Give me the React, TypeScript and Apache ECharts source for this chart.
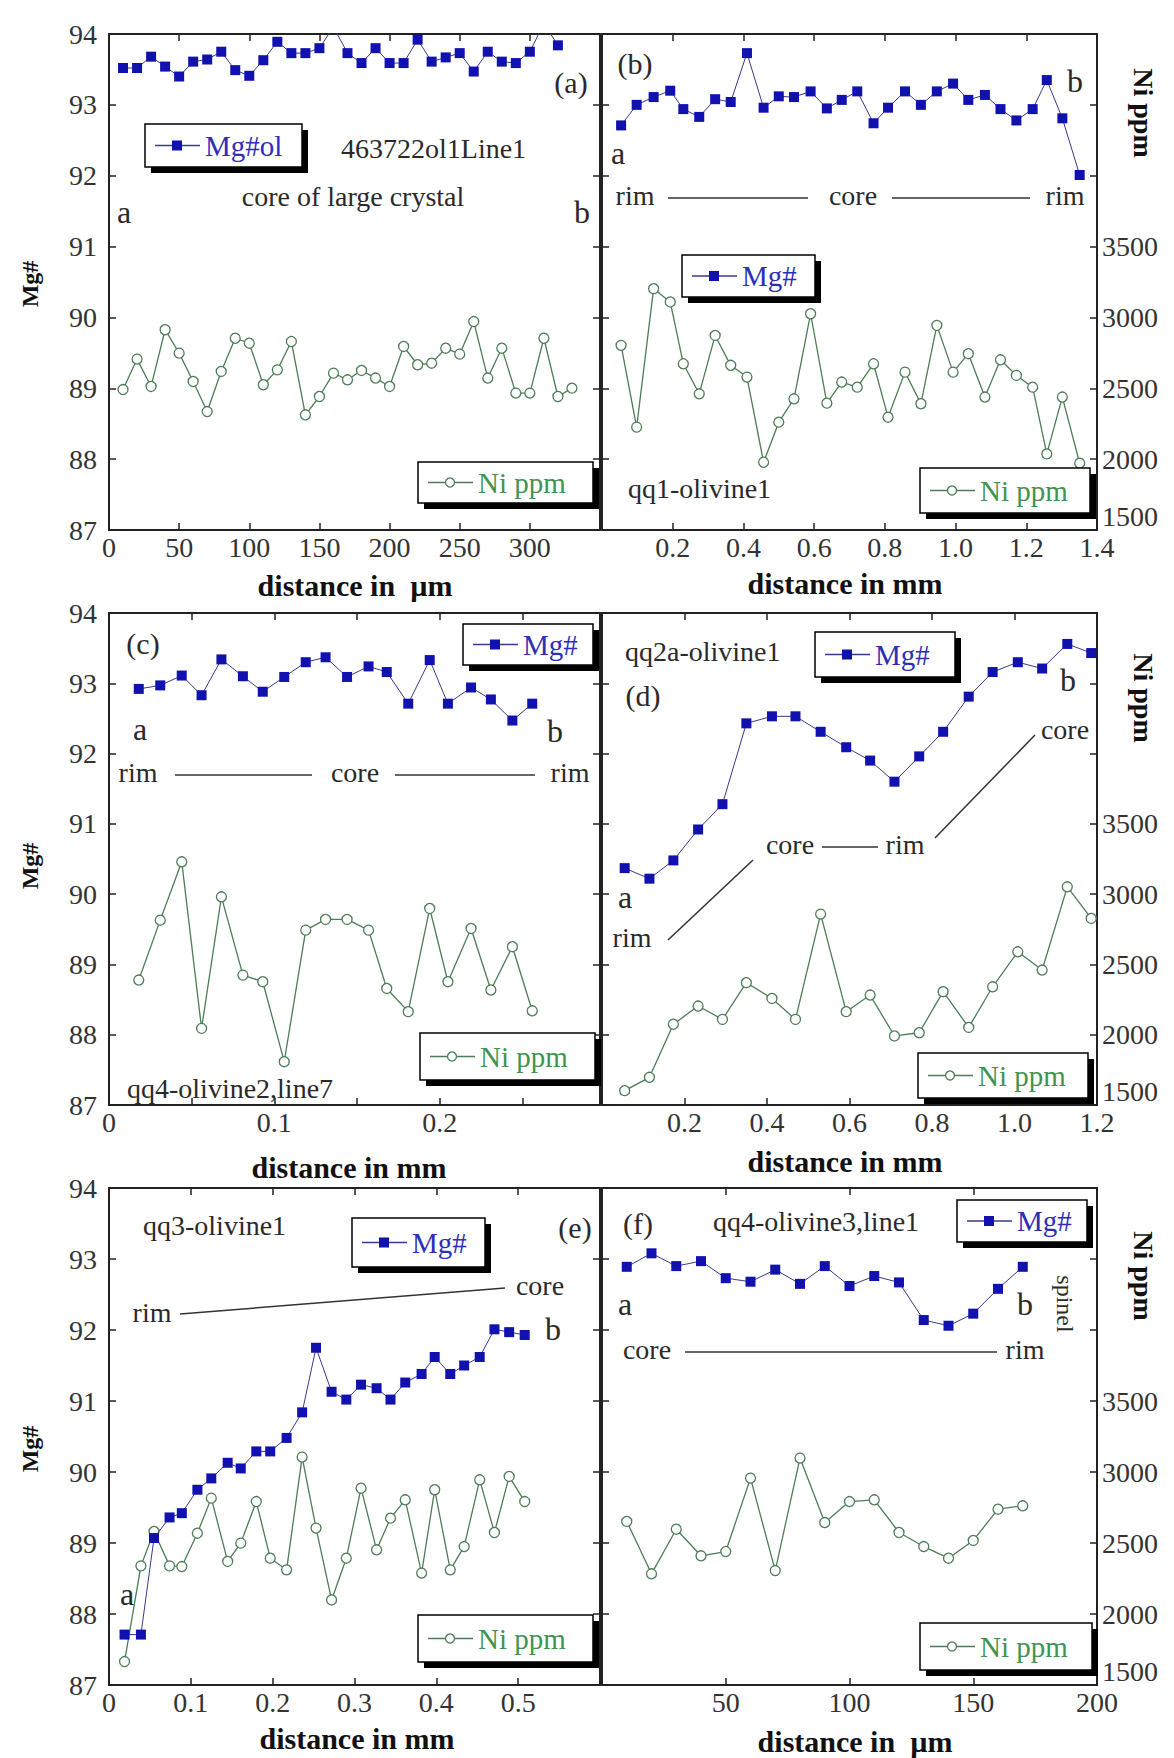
import React, { useEffect, useRef } from "react";
import * as echarts from "echarts";

const FONT = '"Liberation Serif", "Times New Roman", Times, serif';

// ---------- Panel (a): 463722ol1Line1, distance in µm ----------
const aDist = [10, 20, 30, 40, 50, 60, 70, 80, 90, 100, 110, 120, 130, 140, 150, 160, 170, 180, 190, 200, 210, 220, 230, 240, 250, 260, 270, 280, 290, 300, 310, 320, 330];
const aMg = [93.52, 93.52, 93.68, 93.54, 93.4, 93.61, 93.64, 93.75, 93.49, 93.41, 93.63, 93.89, 93.73, 93.73, 93.8, 94.1, 93.73, 93.59, 93.8, 93.59, 93.59, 93.92, 93.61, 93.67, 93.73, 93.47, 93.75, 93.61, 93.59, 93.75, 94.15, 93.84];
const aNi = [2491, 2706, 2513, 2913, 2748, 2548, 2336, 2619, 2853, 2818, 2525, 2630, 2830, 2313, 2442, 2607, 2560, 2626, 2572, 2513, 2795, 2666, 2677, 2783, 2741, 2971, 2572, 2783, 2466, 2466, 2853, 2442, 2501];

// ---------- Panel (b): qq1-olivine1, distance in mm ----------
const bDist = [0.054, 0.098, 0.146, 0.193, 0.23, 0.275, 0.32, 0.364, 0.41, 0.457, 0.5, 0.543, 0.59, 0.636, 0.678, 0.722, 0.768, 0.809, 0.857, 0.902, 0.947, 0.993, 1.036, 1.083, 1.127, 1.172, 1.218, 1.258, 1.302, 1.351];
const bMg = [92.71, 93.0, 93.11, 93.2, 92.94, 92.83, 93.08, 93.04, 93.73, 92.96, 93.12, 93.11, 93.19, 92.95, 93.07, 93.19, 92.74, 92.96, 93.19, 93.0, 93.19, 93.3, 93.07, 93.14, 92.94, 92.78, 92.94, 93.35, 92.81, 92.01];
const bNi = [2803, 2226, 3203, 3109, 2673, 2461, 2873, 2662, 2579, 1978, 2261, 2426, 3026, 2395, 2544, 2508, 2673, 2296, 2614, 2391, 2944, 2614, 2744, 2438, 2701, 2591, 2508, 2037, 2438, 1971];

// ---------- Panel (c): qq4-olivine2,line7, distance in mm ----------
const cDist = [0.018, 0.031, 0.044, 0.056, 0.068, 0.081, 0.093, 0.106, 0.119, 0.131, 0.144, 0.157, 0.168, 0.181, 0.194, 0.205, 0.219, 0.231, 0.244, 0.256];
const cMg = [92.92, 92.97, 93.11, 92.83, 93.34, 93.1, 92.88, 93.09, 93.3, 93.37, 93.09, 93.24, 93.16, 92.71, 93.33, 92.71, 92.94, 92.77, 92.47, 92.71];
const cNi = [2389, 2815, 3230, 2045, 2981, 2424, 2377, 1808, 2744, 2820, 2820, 2744, 2329, 2164, 2898, 2377, 2756, 2318, 2626, 2170];

// ---------- Panel (d): qq2a-olivine1, distance in mm ----------
const dDist = [0.055, 0.115, 0.173, 0.233, 0.292, 0.35, 0.412, 0.469, 0.53, 0.592, 0.65, 0.709, 0.769, 0.827, 0.889, 0.947, 1.008, 1.067, 1.128, 1.186];
const dMg = [90.37, 90.22, 90.48, 90.92, 91.28, 92.43, 92.53, 92.53, 92.31, 92.09, 91.9, 91.6, 91.96, 92.31, 92.81, 93.16, 93.3, 93.21, 93.56, 93.43];
const dNi = [1602, 1697, 2075, 2204, 2109, 2370, 2258, 2109, 2858, 2164, 2282, 1991, 2014, 2306, 2052, 2341, 2590, 2460, 3052, 2827];

// ---------- Panel (e): qq3-olivine1, distance in mm ----------
const eDist = [0.019, 0.039, 0.055, 0.074, 0.089, 0.108, 0.125, 0.145, 0.161, 0.18, 0.197, 0.217, 0.236, 0.253, 0.272, 0.29, 0.308, 0.327, 0.344, 0.362, 0.382, 0.398, 0.417, 0.434, 0.453, 0.471, 0.489, 0.508];
const eMg = [87.71, 87.71, 89.07, 89.36, 89.42, 89.75, 89.91, 90.13, 90.05, 90.29, 90.29, 90.48, 90.84, 91.75, 91.13, 91.02, 91.23, 91.18, 91.02, 91.26, 91.38, 91.62, 91.38, 91.5, 91.62, 92.01, 91.97, 91.93];
const eNi = [1665, 2339, 2581, 2339, 2334, 2569, 2816, 2370, 2499, 2792, 2393, 2311, 3105, 2605, 2099, 2393, 2886, 2452, 2675, 2804, 2288, 2875, 2311, 2475, 2945, 2574, 2969, 2792];

// ---------- Panel (f): qq4-olivine3,line1, distance in µm ----------
const fDist = [10, 20, 30, 40, 50, 60, 70, 80, 90, 100, 110, 120, 130, 140, 150, 160, 170];
const fMg = [92.89, 93.08, 92.9, 92.97, 92.73, 92.68, 92.85, 92.65, 92.9, 92.62, 92.76, 92.67, 92.14, 92.06, 92.23, 92.58, 92.89];
const fNi = [2652, 2283, 2597, 2410, 2440, 2957, 2306, 3098, 2644, 2792, 2804, 2574, 2475, 2393, 2518, 2738, 2762];

// Axis ranges
const MG_MIN = 87, MG_MAX = 94, MG_STEP = 1;
const NI_MIN = 1500, NI_MAX = 5000, NI_STEP = 500, NI_LABEL_MAX = 3500;

const PANELS = [
  { dist: aDist, mg: aMg, ni: aNi, xmin: 0, xmax: 350, xstep: 50, col: 0 },
  { dist: bDist, mg: bMg, ni: bNi, xmin: 0, xmax: 1.4, xstep: 0.2, col: 1 },
  { dist: cDist, mg: cMg, ni: cNi, xmin: 0, xmax: 0.297, xstep: 0.05, col: 0 },
  { dist: dDist, mg: dMg, ni: dNi, xmin: 0, xmax: 1.2, xstep: 0.2, col: 1 },
  { dist: eDist, mg: eMg, ni: eNi, xmin: 0, xmax: 0.6, xstep: 0.1, col: 0 },
  { dist: fDist, mg: fMg, ni: fNi, xmin: 0, xmax: 200, xstep: 50, col: 1 },
];

const GRIDS = [
  { left: 109, top: 34, width: 491, height: 496 },
  { left: 602, top: 34, width: 495, height: 496 },
  { left: 109, top: 613, width: 491, height: 492 },
  { left: 602, top: 613, width: 495, height: 492 },
  { left: 109, top: 1188, width: 491, height: 497 },
  { left: 602, top: 1188, width: 495, height: 497 },
];

const xFormatters: ((v: number) => string)[] = [
  (v) => (v >= 349 ? "" : String(Math.round(v))),
  (v) => (v < 0.01 ? "" : v.toFixed(1)),
  (v) => {
    const r = Math.round(v * 100) / 100;
    if (r === 0) return "0";
    if (r === 0.1) return "0.1";
    if (r === 0.2) return "0.2";
    return "";
  },
  (v) => (v < 0.01 ? "" : v.toFixed(1)),
  (v) => {
    const r = Math.round(v * 10) / 10;
    if (r >= 0.55) return "";
    return r === 0 ? "0" : String(r);
  },
  (v) => (v < 1 ? "" : String(Math.round(v))),
];

const MG_BLUE = "#1111b0";
const MG_LINE = "#3a3a8c";
const NI_GREEN = "#4d7d57";
const TXT = "#2a2a2a";

function T(text: string, x: number, y: number, o: any = {}) {
  const align = o.align || "center";
  return {
    type: "text",
    x,
    y,
    rotation: o.rot || 0,
    z: 50,
    style: {
      text,
      fill: o.fill || TXT,
      fontSize: o.size || 28,
      fontFamily: FONT,
      fontWeight: o.bold ? "bold" : "normal",
      textAlign: align,
      textVerticalAlign: "middle",
      align,
      verticalAlign: "middle",
    },
  };
}

function L(x1: number, y1: number, x2: number, y2: number) {
  return { type: "line", z: 50, shape: { x1, y1, x2, y2 }, style: { stroke: "#333", lineWidth: 1.5 } };
}

function legendBox(x0: number, y0: number, x1: number, y1: number, kind: "mg" | "ni", label: string) {
  const w = x1 - x0, h = y1 - y0, cy = (y0 + y1) / 2;
  const els: any[] = [
    { type: "rect", z: 60, shape: { x: x0 + 6, y: y0 + 6, width: w, height: h }, style: { fill: "#000" } },
    { type: "rect", z: 61, shape: { x: x0, y: y0, width: w, height: h }, style: { fill: "#fff", stroke: "#000", lineWidth: 1.5 } },
    { type: "line", z: 62, shape: { x1: x0 + 10, y1: cy, x2: x0 + 55, y2: cy }, style: { stroke: kind === "mg" ? MG_LINE : NI_GREEN, lineWidth: 1.3 } },
  ];
  if (kind === "mg") {
    els.push({ type: "rect", z: 63, shape: { x: x0 + 27, y: cy - 5, width: 10, height: 10 }, style: { fill: MG_BLUE } });
  } else {
    els.push({ type: "circle", z: 63, shape: { cx: x0 + 32, cy, r: 4.5 }, style: { fill: "#fff", stroke: NI_GREEN, lineWidth: 1.3 } });
  }
  els.push({
    type: "text",
    z: 64,
    x: x0 + 60,
    y: cy,
    style: {
      text: label,
      fill: kind === "mg" ? "#2e2eb8" : "#3f9450",
      fontSize: 29,
      fontFamily: FONT,
      textAlign: "left",
      textVerticalAlign: "middle",
      align: "left",
      verticalAlign: "middle",
    },
  });
  return els;
}

function buildOption() {
  const axisLine = { show: true, onZero: false, lineStyle: { color: "#222", width: 2 } };
  const axisTick = { show: true, inside: true, length: 7, lineStyle: { color: "#222", width: 1.5 } };
  const labelBase = { fontSize: 28, fontFamily: FONT, color: "#333" };

  const xAxis: any[] = [];
  const yAxis: any[] = [];
  const series: any[] = [];

  PANELS.forEach((p, i) => {
    const xa = { type: "value", gridIndex: i, min: p.xmin, max: p.xmax, interval: p.xstep, axisLine, axisTick, splitLine: { show: false } };
    xAxis.push({ ...xa, position: "bottom", axisLabel: { ...labelBase, margin: 3, formatter: xFormatters[i], showMinLabel: true, showMaxLabel: true } });
    xAxis.push({ ...xa, position: "top", axisLabel: { show: false } });
    yAxis.push({
      type: "value", gridIndex: i, position: "left", min: MG_MIN, max: MG_MAX, interval: MG_STEP,
      axisLine, axisTick, splitLine: { show: false },
      axisLabel: p.col === 0 ? { ...labelBase, margin: 12, showMinLabel: true, showMaxLabel: true } : { show: false },
    });
    yAxis.push({
      type: "value", gridIndex: i, position: "right", min: NI_MIN, max: NI_MAX, interval: NI_STEP,
      axisLine, axisTick, splitLine: { show: false },
      axisLabel: p.col === 1
        ? {
            ...labelBase, margin: 5, showMinLabel: true,
            verticalAlignMinLabel: "bottom",
            formatter: (v: number) => (v <= NI_LABEL_MAX ? String(v) : ""),
          }
        : { show: false },
    });
    series.push({
      type: "line", name: "Mg#", xAxisIndex: 2 * i, yAxisIndex: 2 * i, clip: true, z: 4,
      data: p.mg.map((v, k) => [p.dist[k], v]),
      symbol: "rect", symbolSize: 10,
      itemStyle: { color: MG_BLUE },
      lineStyle: { color: MG_LINE, width: 1 },
    });
    series.push({
      type: "line", name: "Ni ppm", xAxisIndex: 2 * i, yAxisIndex: 2 * i + 1, clip: true, z: 3,
      data: p.ni.map((v, k) => [p.dist[k], v]),
      symbol: "circle", symbolSize: 10,
      itemStyle: { color: "#fff", borderColor: NI_GREEN, borderWidth: 1.3 },
      lineStyle: { color: NI_GREEN, width: 1.3 },
    });
  });

  const elements: any[] = [
    // axis titles
    T("Mg#", 30, 284, { bold: true, size: 24, rot: Math.PI / 2, fill: "#111" }),
    T("Mg#", 30, 866, { bold: true, size: 24, rot: Math.PI / 2, fill: "#111" }),
    T("Mg#", 30, 1449, { bold: true, size: 24, rot: Math.PI / 2, fill: "#111" }),
    T("Ni ppm", 1143, 113, { bold: true, size: 28, rot: -Math.PI / 2, fill: "#111" }),
    T("Ni ppm", 1143, 698, { bold: true, size: 28, rot: -Math.PI / 2, fill: "#111" }),
    T("Ni ppm", 1143, 1276, { bold: true, size: 28, rot: -Math.PI / 2, fill: "#111" }),
    T("distance in  µm", 355, 585, { bold: true, size: 30, fill: "#111" }),
    T("distance in mm", 845, 583, { bold: true, size: 30, fill: "#111" }),
    T("distance in mm", 349, 1167, { bold: true, size: 30, fill: "#111" }),
    T("distance in mm", 845, 1161, { bold: true, size: 30, fill: "#111" }),
    T("distance in mm", 357, 1738, { bold: true, size: 30, fill: "#111" }),
    T("distance in  µm", 855, 1741, { bold: true, size: 30, fill: "#111" }),

    // panel (a)
    T("(a)", 571, 82, { size: 30 }),
    T("463722ol1Line1", 341, 148, { align: "left" }),
    T("core of large crystal", 353, 196),
    T("a", 124, 212, { size: 32 }),
    T("b", 582, 212, { size: 32 }),

    // panel (b)
    T("(b)", 635, 63, { size: 30 }),
    T("a", 618, 153, { size: 32 }),
    T("b", 1075, 81, { size: 32 }),
    T("rim", 635, 195),
    L(668, 198, 808, 198),
    T("core", 853, 195),
    L(892, 198, 1030, 198),
    T("rim", 1065, 195),
    T("qq1-olivine1", 628, 488, { align: "left" }),

    // panel (c)
    T("(c)", 143, 643, { size: 30 }),
    T("a", 140, 729, { size: 32 }),
    T("b", 555, 731, { size: 32 }),
    T("rim", 138, 772),
    L(175, 775, 312, 775),
    T("core", 355, 772),
    L(395, 775, 535, 775),
    T("rim", 570, 772),
    T("qq4-olivine2,line7", 127, 1088, { align: "left" }),

    // panel (d)
    T("qq2a-olivine1", 625, 651, { align: "left" }),
    T("(d)", 643, 695, { size: 30 }),
    T("b", 1068, 680, { size: 32 }),
    T("core", 1065, 729),
    L(1035, 735, 935, 838),
    T("core", 790, 844),
    L(822, 847, 878, 847),
    T("rim", 905, 844),
    L(753, 860, 668, 940),
    T("a", 625, 897, { size: 32 }),
    T("rim", 632, 937),

    // panel (e)
    T("qq3-olivine1", 143, 1225, { align: "left" }),
    T("(e)", 575, 1227, { size: 30 }),
    T("core", 540, 1285),
    L(505, 1288, 180, 1314),
    T("rim", 152, 1312),
    T("b", 553, 1329, { size: 32 }),
    T("a", 127, 1594, { size: 32 }),

    // panel (f)
    T("(f)", 638, 1223, { size: 30 }),
    T("qq4-olivine3,line1", 713, 1221, { align: "left" }),
    T("a", 625, 1304, { size: 32 }),
    T("b", 1025, 1304, { size: 32 }),
    T("spinel", 1065, 1304, { size: 24, rot: -Math.PI / 2 }),
    T("core", 647, 1349),
    L(685, 1352, 997, 1352),
    T("rim", 1025, 1349),

    // legends
    ...legendBox(145, 124, 302, 167, "mg", "Mg#ol"),
    ...legendBox(418, 462, 593, 503, "ni", "Ni ppm"),
    ...legendBox(682, 255, 815, 297, "mg", "Mg#"),
    ...legendBox(920, 468, 1090, 513, "ni", "Ni ppm"),
    ...legendBox(463, 624, 593, 665, "mg", "Mg#"),
    ...legendBox(420, 1033, 595, 1080, "ni", "Ni ppm"),
    ...legendBox(815, 632, 955, 677, "mg", "Mg#"),
    ...legendBox(918, 1053, 1088, 1098, "ni", "Ni ppm"),
    ...legendBox(352, 1218, 485, 1267, "mg", "Mg#"),
    ...legendBox(418, 1615, 593, 1662, "ni", "Ni ppm"),
    ...legendBox(957, 1200, 1087, 1242, "mg", "Mg#"),
    ...legendBox(920, 1623, 1092, 1670, "ni", "Ni ppm"),
  ];

  return {
    animation: false,
    backgroundColor: "#ffffff",
    grid: GRIDS.map((g) => ({ ...g, containLabel: false, show: false })),
    xAxis,
    yAxis,
    series,
    graphic: { elements },
  };
}

export default function App() {
  const ref = useRef<HTMLDivElement>(null);
  useEffect(() => {
    document.body.style.margin = "0";
    if (!ref.current) return;
    const chart = echarts.init(ref.current, undefined, { renderer: "svg" });
    chart.setOption(buildOption() as any);
    return () => chart.dispose();
  }, []);
  return <div ref={ref} style={{ width: 1174, height: 1758, background: "#fff" }} />;
}
